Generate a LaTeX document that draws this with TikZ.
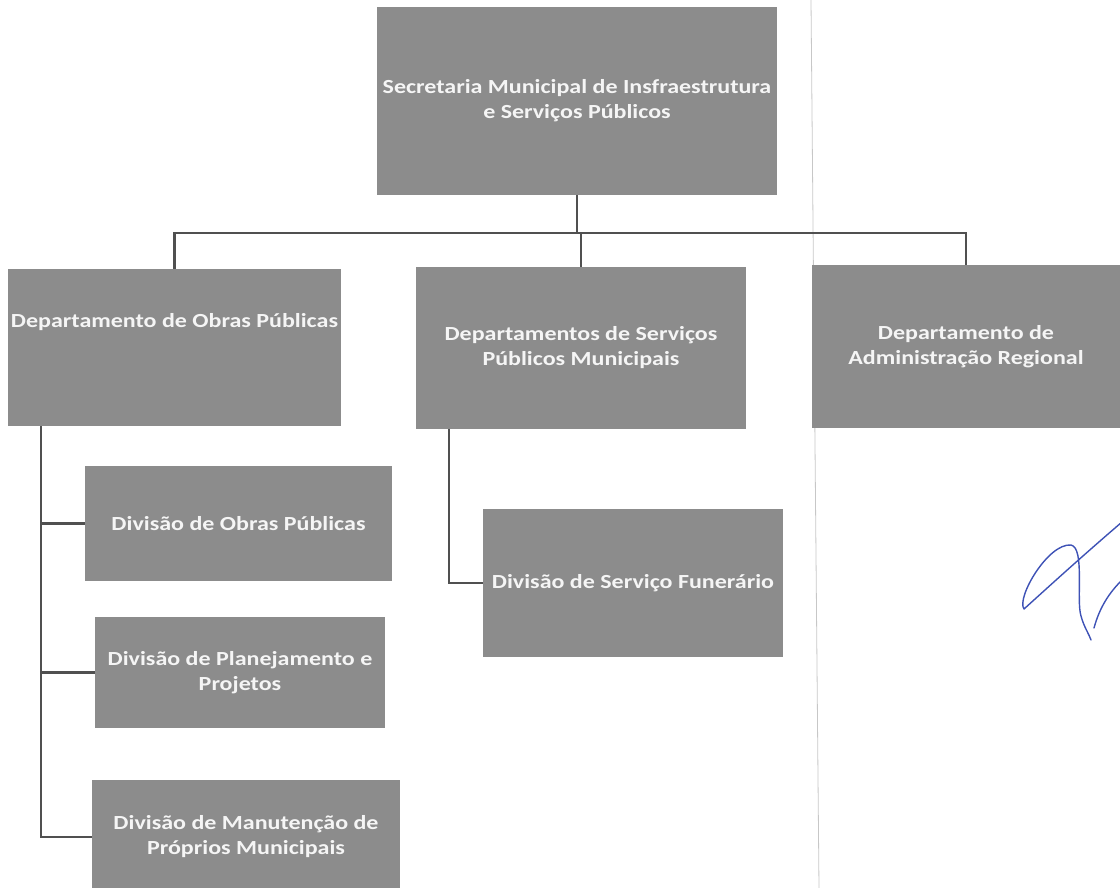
\documentclass[tikz,border=0pt]{standalone}
\usepackage{fontspec}
\setmainfont{Carlito}[FakeStretch=1.2]
\usetikzlibrary{positioning,calc}
\definecolor{boxgray}{RGB}{140,140,140}
\definecolor{linegray}{RGB}{80,80,80}
\definecolor{inkblue}{RGB}{62,82,182}

\begin{document}
\begin{tikzpicture}[x=1pt,y=-1pt,
  bx/.style 2 args={fill=boxgray, inner sep=0pt, outer sep=0pt,
                    minimum width=#1, minimum height=#2},
  tx/.style={text=white!96!black, align=center,
             font=\bfseries\fontsize{20}{25}\selectfont},
  ln/.style={draw=linegray, line width=2.2pt},
]
\useasboundingbox (0,0) rectangle (1120,888);

% fold of the scanned page
\draw[black!22, line width=0.8pt] (811,0) -- (819,888);

\node[bx={400pt}{188pt}, tx] (sec) at (577,101)
  {Secretaria Municipal de Insfraestrutura\\e Serviços Públicos};

\node[bx={333pt}{157pt}] (dop) at (174.5,347.5) {};
\node[tx] (dopt) at ([yshift=25pt]dop.center) {Departamento de Obras Públicas};
\node[bx={330pt}{162pt}, tx] (dsp) at (581,348)
  {Departamentos de Serviços\\Públicos Municipais};
\node[bx={308pt}{163pt}, tx] (dar) at (966,346.5)
  {Departamento de\\Administração Regional};

\node[bx={307pt}{115pt}, tx] (dvo) at (238.5,523.5) {Divisão de Obras Públicas};
\node[bx={290pt}{111pt}, tx] (dpp) at (240,672.5)
  {Divisão de Planejamento e\\Projetos};
\node[bx={308pt}{114pt}, tx] (dmp) at (246,837)
  {Divisão de Manutenção de\\Próprios Municipais};
\node[bx={300pt}{148pt}, tx] (dsf) at (633,583) {Divisão de Serviço Funerário};

% links
\coordinate (bus) at (sec.south |- 0,233);
\draw[ln] (sec.south) -- (bus);
\draw[ln] (dop.north) |- (bus) -| (dar.north);
\draw[ln] (bus) -| (dsp.north);

\coordinate (dopl) at ([xshift=33pt]dop.south west);
\draw[ln] (dopl) |- (dvo.west);
\draw[ln] (dopl) |- (dpp.west);
\draw[ln] (dopl) |- (dmp.west);

\coordinate (dspl) at ([xshift=33pt]dsp.south west);
\draw[ln] (dspl) |- (dsf.west);

% signature
\draw[inkblue, line width=1.4pt, line cap=round, line join=round]
  (1122,522) .. controls (1080,558) and (1045,590) .. (1024,609)
  .. controls (1016,598) and (1048,543) .. (1071,545)
  .. controls (1085,548) and (1076,600) .. (1081,616)
  .. controls (1084,627) and (1088,632) .. (1091,640);
\draw[inkblue, line width=1.4pt, line cap=round]
  (1094,628) .. controls (1100,606) and (1110,592) .. (1122,580);
\end{tikzpicture}
\end{document}
